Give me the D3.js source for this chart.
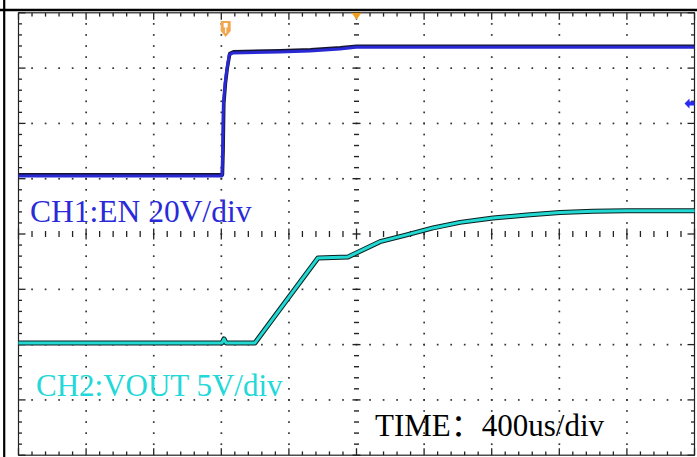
<!DOCTYPE html>
<html><head><meta charset="utf-8">
<script src="https://cdn.jsdelivr.net/npm/d3@7"></script>
<style>html,body{margin:0;padding:0;background:#fff;overflow:hidden}</style>
</head><body>
<svg id="c" width="697" height="457"></svg>
<script>
// ---- data ----
const ch1TimeUs = [0, 1204, 1208, 1212, 1222, 1232, 1247, 1269, 1547, 1725, 1902, 1997, 4000];
const ch1Volts  = [0, 0, 9.4, 25.7, 33.3, 38.3, 43.8, 44.5, 44.8, 45.2, 45.9, 46.5, 46.5];
const ch2TimeUs = [0, 1204, 1216, 1228, 1399, 1506, 1772, 1950, 2139, 2297, 2453, 2612, 2808, 3009, 3204, 3400, 3601, 4000];
const ch2Volts  = [0, 0, 0.36, 0, 0, 2.2, 7.69, 7.78, 9.16, 9.77, 10.4, 10.9, 11.3, 11.57, 11.8, 11.9, 11.95, 11.95];
const labelTexts = ["CH1:EN 20V/div", "CH2:VOUT 5V/div", "TIME：400us/div"];
const timePerDivUs = 400, ch1VoltsPerDiv = 20, ch2VoltsPerDiv = 5;
const triggerTimeUs = 1226, triggerLevelV = 26.2;

// ---- layout ----
const X0 = 18.5, X1 = 694.5, Y0 = 12.8, Y1 = 455.2;
const CH1_OFFSET_DIV = 1.05, CH2_OFFSET_DIV = -1.97;

const svg = d3.select("#c");
const x = d3.scaleLinear().domain([0, 10 * timePerDivUs]).range([X0, X1]);
const yDiv = d3.scaleLinear().domain([-4, 4]).range([Y1, Y0]);
const y1 = d3.scaleLinear().domain([(-4 - CH1_OFFSET_DIV) * ch1VoltsPerDiv, (4 - CH1_OFFSET_DIV) * ch1VoltsPerDiv]).range([Y1, Y0]);
const y2 = d3.scaleLinear().domain([(-4 - CH2_OFFSET_DIV) * ch2VoltsPerDiv, (4 - CH2_OFFSET_DIV) * ch2VoltsPerDiv]).range([Y1, Y0]);

const majorT = d3.range(0, 11).map(i => i * timePerDivUs);
const minorT = d3.range(0, 51).map(i => i * timePerDivUs / 5);
const majorD = d3.range(-4, 5);
const minorD = d3.range(-20, 21).map(i => i / 5);
const isMajT = (i) => i % 5 === 0;

const grid = svg.append("g");
const dotCol = "#333";
majorD.filter(d => d !== -4 && d !== 4 && d !== 0).forEach(d => {
  minorT.slice(1, -1).forEach(t => {
    grid.append("rect").attr("x", x(t) - 0.8).attr("y", yDiv(d) - 0.8).attr("width", 1.7).attr("height", 1.7).attr("fill", dotCol);
  });
});
majorT.filter((t, i) => i !== 0 && i !== 10 && i !== 5).forEach(t => {
  minorD.slice(1, -1).forEach(d => {
    grid.append("rect").attr("x", x(t) - 0.8).attr("y", yDiv(d) - 0.8).attr("width", 1.7).attr("height", 1.7).attr("fill", dotCol);
  });
});
minorT.forEach((t, i) => {
  const h = isMajT(i) ? 5.5 : 3;
  grid.append("line").attr("x1", x(t)).attr("x2", x(t)).attr("y1", yDiv(0) - h).attr("y2", yDiv(0) + h).attr("stroke", "#222").attr("stroke-width", 1.3);
});
minorD.forEach((d, i) => {
  const w = (i % 5 === 0) ? 4 : 2.5;
  grid.append("line").attr("x1", x(2000) - w).attr("x2", x(2000) + w).attr("y1", yDiv(d)).attr("y2", yDiv(d)).attr("stroke", "#222").attr("stroke-width", 1.4);
});
minorT.forEach((t, i) => {
  const L = isMajT(i) ? 7 : 3.8;
  grid.append("line").attr("x1", x(t)).attr("x2", x(t)).attr("y1", Y0).attr("y2", Y0 + L).attr("stroke", "#222").attr("stroke-width", 1.3);
  grid.append("line").attr("x1", x(t)).attr("x2", x(t)).attr("y1", Y1).attr("y2", Y1 - L).attr("stroke", "#222").attr("stroke-width", 1.3);
});
minorD.forEach((d, i) => {
  const L = (i % 5 === 0) ? 7 : 3.5;
  grid.append("line").attr("x1", X0).attr("x2", X0 + L).attr("y1", yDiv(d)).attr("y2", yDiv(d)).attr("stroke", "#222").attr("stroke-width", 1.3);
  grid.append("line").attr("x1", X1).attr("x2", X1 - L).attr("y1", yDiv(d)).attr("y2", yDiv(d)).attr("stroke", "#222").attr("stroke-width", 1.3);
});
grid.append("rect").attr("x", X0).attr("y", Y0).attr("width", X1 - X0).attr("height", Y1 - Y0)
  .attr("fill", "none").attr("stroke", "#222").attr("stroke-width", 1.2);
svg.append("line").attr("x1", 0).attr("x2", 697).attr("y1", 10).attr("y2", 10).attr("stroke", "#000").attr("stroke-width", 2.4);
svg.append("line").attr("x1", 4.2).attr("x2", 4.2).attr("y1", 0).attr("y2", 457).attr("stroke", "#000").attr("stroke-width", 2.2);

// ---- traces ----
const ch1 = ch1TimeUs.map((t, i) => [t, ch1Volts[i]]);
const ch2 = ch2TimeUs.map((t, i) => [t, ch2Volts[i]]);
const line1 = d3.line().x(d => x(d[0])).y(d => y1(d[1]));
const line2 = d3.line().x(d => x(d[0])).y(d => y2(d[1]));
const tr = svg.append("g").attr("fill", "none").attr("stroke-linejoin", "round");
tr.append("path").attr("d", line1(ch1)).attr("stroke", "#151530").attr("stroke-width", 3.5).attr("transform", "translate(0.5,-1.2)");
tr.append("path").attr("d", line1(ch1)).attr("stroke", "#2828d4").attr("stroke-width", 3);
tr.append("path").attr("d", line2(ch2)).attr("stroke", "#0a2020").attr("stroke-width", 5);
tr.append("path").attr("d", line2(ch2)).attr("stroke", "#22d8d2").attr("stroke-width", 3);

// ---- markers ----
const tx = x(triggerTimeUs);
svg.append("path").attr("d", `M${tx-5},21 h10 v10 l-5,6 l-5,-6 z`).attr("fill", "#f2a650");
svg.append("rect").attr("x", tx - 2).attr("y", 23).attr("width", 4).attr("height", 4.5).attr("fill", "#fff");
svg.append("line").attr("x1", tx).attr("x2", tx).attr("y1", 27.5).attr("y2", 33).attr("stroke", "#fff").attr("stroke-width", 1.2);
const cx = x(2000);
svg.append("path").attr("d", `M${cx-5},${Y0} L${cx+5},${Y0} L${cx},${Y0+7} Z`).attr("fill", "#f0a020");
const ay = y1(triggerLevelV);
svg.append("path").attr("d", `M${X1-10},${ay} L${X1-5},${ay-5} L${X1-5},${ay-2} L${X1},${ay-2} L${X1},${ay+2} L${X1-5},${ay+2} L${X1-5},${ay+5} Z`).attr("fill", "#2a2af0");

// ---- labels ----
const font = "'Liberation Serif', 'Times New Roman', 'Noto Sans CJK SC', serif";
svg.append("text").attr("x", 30).attr("y", 222).attr("font-family", font).attr("font-size", 31.5).attr("fill", "#2a2ad8").text(labelTexts[0]);
svg.append("text").attr("x", 36).attr("y", 396).attr("font-family", font).attr("font-size", 31).attr("fill", "#22d8d8").text(labelTexts[1]);
svg.append("text").attr("x", 375).attr("y", 436).attr("font-family", font).attr("font-size", 31).attr("fill", "#000").text(labelTexts[2]);
</script>
</body></html>
